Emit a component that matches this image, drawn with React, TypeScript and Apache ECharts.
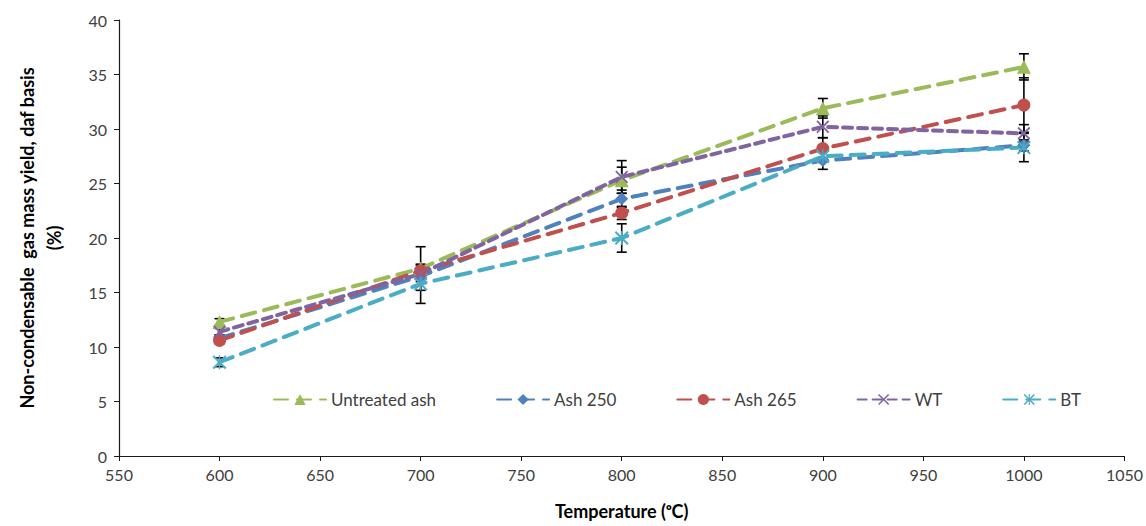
import React, { useEffect, useRef } from "react";
import * as echarts from "echarts";

const temperatures = [600, 700, 800, 900, 1000];
const untreatedAsh = [12.3, 17.2, 25.3, 31.9, 35.7];
const ash250 = [10.8, 16.5, 23.6, 27.1, 28.5];
const ash265 = [10.6, 17.0, 22.3, 28.2, 32.2];
const wt = [11.4, 16.7, 25.6, 30.2, 29.6];
const bt = [8.6, 15.8, 20.0, 27.5, 28.3];

const errUntreated = [0.3, 2.0, 1.2, 0.9, 1.2];
const errAsh250 = [0.3, 0.5, 0.8, 0.8, 0.5];
const errAsh265 = [0.3, 0.5, 0.6, 1.0, 2.5];
const errWT = [0.3, 0.5, 1.5, 1.0, 0.8];
const errBT = [0.4, 1.8, 1.3, 0.5, 1.3];

const seriesNames = ["Untreated ash", "Ash 250", "Ash 265", "WT", "BT"];
const colors = ["#9BBB59", "#4F81BD", "#C0504D", "#8064A2", "#4BACC6"];

const X_PATH =
  "path://M0,2 L2,0 L10,8 L18,0 L20,2 L12,10 L20,18 L18,20 L10,12 L2,20 L0,18 L8,10 Z";
const AST_PATH =
  "path://M0,2 L2,0 L10,8 L18,0 L20,2 L12,10 L20,18 L18,20 L10,12 L2,20 L0,18 L8,10 Z M9,0 L11,0 L11,20 L9,20 Z";

export default function App() {
  const ref = useRef<HTMLDivElement>(null);
  useEffect(() => {
    if (!ref.current) return;
    const chart = echarts.init(ref.current, undefined, { renderer: "svg" });
    const values = [untreatedAsh, ash250, ash265, wt, bt];
    const errs = [errUntreated, errAsh250, errAsh265, errWT, errBT];
    const symbols = ["triangle", "diamond", "circle", X_PATH, AST_PATH];
    const symbolSizes = [14, 13, 13, 13, 14];
    const dashes = [[14, 9], [14, 9], [14, 9], [9, 6], [14, 9]];

    const lineSeries = seriesNames.map((name, i) => ({
      name,
      type: "line",
      data: temperatures.map((t, j) => [t, values[i][j]]),
      symbol: symbols[i],
      symbolSize: symbolSizes[i],
      itemStyle: { color: colors[i] },
      lineStyle: { color: colors[i], width: 4, type: dashes[i], cap: "round" },
      z: 3,
    }));

    const errData: number[][] = [];
    values.forEach((vals, i) => {
      temperatures.forEach((t, j) => {
        errData.push([t, vals[j] - errs[i][j], vals[j] + errs[i][j]]);
      });
    });

    const errSeries = {
      type: "custom",
      name: "err",
      z: 2,
      data: errData,
      renderItem: (params: any, api: any) => {
        const x = api.value(0);
        const lo = api.coord([x, api.value(1)]);
        const hi = api.coord([x, api.value(2)]);
        const w = 5;
        const style = { stroke: "#000", lineWidth: 1.6 };
        return {
          type: "group",
          children: [
            { type: "line", shape: { x1: lo[0], y1: lo[1], x2: hi[0], y2: hi[1] }, style },
            { type: "line", shape: { x1: lo[0] - w, y1: lo[1], x2: lo[0] + w, y2: lo[1] }, style },
            { type: "line", shape: { x1: hi[0] - w, y1: hi[1], x2: hi[0] + w, y2: hi[1] }, style },
          ],
        };
      },
    };

    const axisText = { color: "#404040", fontSize: 16, fontFamily: "Lato" };

    chart.setOption({
      animation: false,
      backgroundColor: "#fff",
      grid: { left: 119, right: 21, top: 20, bottom: 70 },
      legend: {
        data: seriesNames,
        left: 268,
        top: 386,
        itemWidth: 52,
        itemHeight: 14,
        itemGap: 60,
        textStyle: { fontSize: 17, color: "#404040", fontFamily: "Lato" },
      },
      xAxis: {
        type: "value",
        min: 550,
        max: 1050,
        interval: 50,
        name: "Temperature (ᵒC)",
        nameLocation: "middle",
        nameGap: 46,
        nameTextStyle: { fontSize: 18, fontWeight: "bold", color: "#000", fontFamily: "Lato" },
        axisLine: { lineStyle: { color: "#1a1a1a", width: 1.2 } },
        axisTick: { show: true, length: 5, lineStyle: { color: "#1a1a1a" } },
        axisLabel: { ...axisText, margin: 10, formatter: (v: number) => String(v) },
        splitLine: { show: false },
      },
      yAxis: {
        type: "value",
        min: 0,
        max: 40,
        interval: 5,
        name: "Non-condensable  gas mass yield, daf basis\n(%)",
        nameLocation: "middle",
        nameRotate: 90,
        nameGap: 52,
        nameTextStyle: { fontSize: 18, fontWeight: "bold", color: "#000", fontFamily: "Lato", lineHeight: 27 },
        axisLine: { show: true, lineStyle: { color: "#1a1a1a", width: 1.2 } },
        axisTick: { show: true, length: 5, lineStyle: { color: "#1a1a1a" } },
        axisLabel: { ...axisText, margin: 12 },
        splitLine: { show: false },
      },
      series: [errSeries, ...lineSeries],
    });
    return () => chart.dispose();
  }, []);
  return (
    <div
      ref={ref}
      style={{ position: "fixed", left: 0, top: 0, width: 1146, height: 526 }}
    />
  );
}
